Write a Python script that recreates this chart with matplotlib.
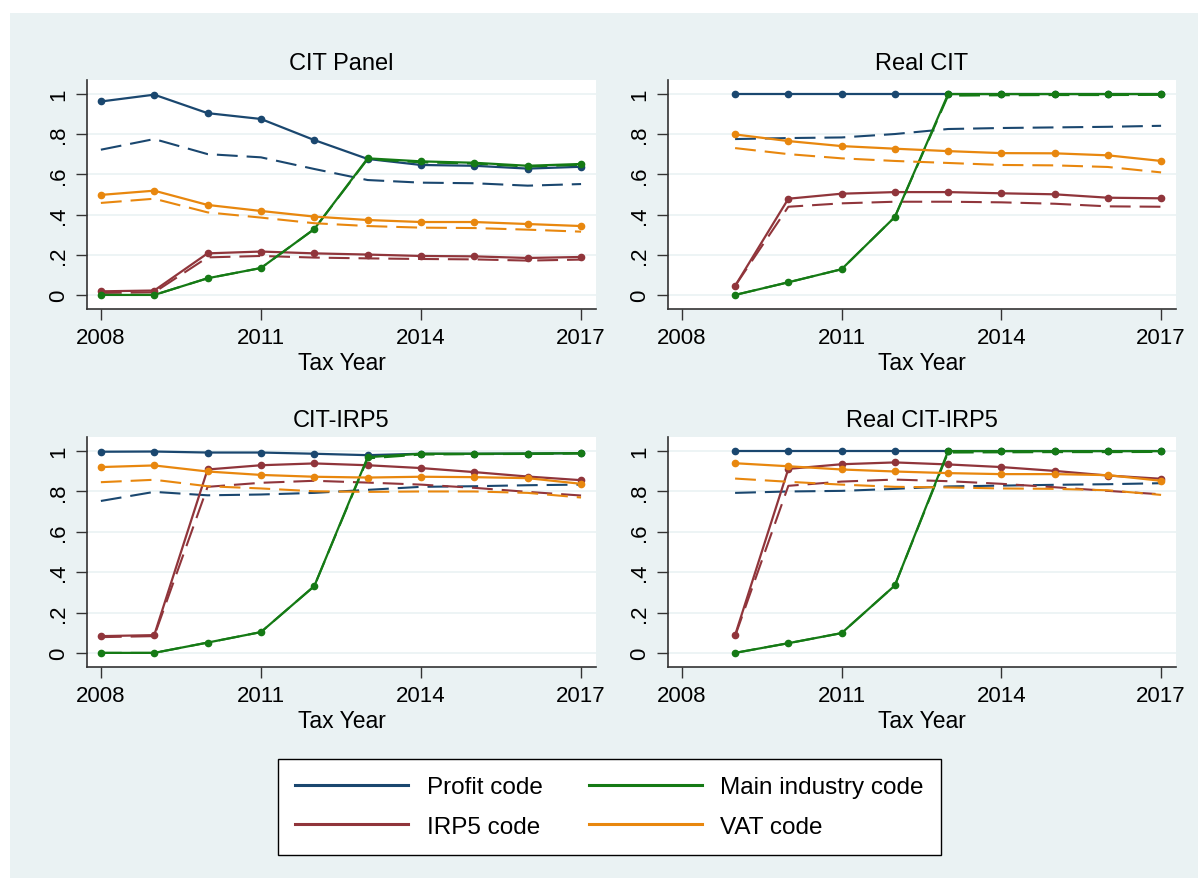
import numpy as np
import matplotlib
matplotlib.use('Agg')
from matplotlib import pyplot as plt
from matplotlib.patches import Rectangle

plt.rcParams['font.family'] = ['Liberation Sans', 'DejaVu Sans']

# colours (Stata s2color-like)
BG = '#EAF2F3'
NAVY = '#1A476F'
MAROON = '#90353B'
GREEN = '#157A15'
ORANGE = '#E8870E'

years = [2008, 2009, 2010, 2011, 2012, 2013, 2014, 2015, 2016, 2017]
years_real = years[1:]

# --- CIT Panel ---
cit_profit = [0.963, 0.997, 0.905, 0.876, 0.771, 0.677, 0.647, 0.643, 0.629, 0.638]
cit_profit_d = [0.723, 0.776, 0.701, 0.685, 0.627, 0.572, 0.559, 0.556, 0.544, 0.552]
cit_irp5 = [0.018, 0.022, 0.207, 0.216, 0.207, 0.201, 0.194, 0.192, 0.184, 0.189]
cit_irp5_d = [0.010, 0.013, 0.187, 0.194, 0.186, 0.182, 0.179, 0.177, 0.171, 0.176]
cit_main = [0.0, 0.0, 0.083, 0.134, 0.328, 0.680, 0.665, 0.658, 0.643, 0.652]
cit_main_d = [0.0, 0.0, 0.083, 0.134, 0.328, 0.676, 0.660, 0.654, 0.639, 0.648]
cit_vat = [0.498, 0.519, 0.448, 0.418, 0.390, 0.373, 0.363, 0.363, 0.353, 0.343]
cit_vat_d = [0.458, 0.479, 0.411, 0.385, 0.357, 0.343, 0.335, 0.333, 0.325, 0.315]

# --- Real CIT (2009-2017) ---
rcit_profit = [1.0, 1.0, 1.0, 1.0, 1.0, 1.0, 1.0, 1.0, 1.0]
rcit_profit_d = [0.776, 0.781, 0.784, 0.801, 0.826, 0.831, 0.834, 0.837, 0.842]
rcit_irp5 = [0.045, 0.479, 0.504, 0.512, 0.512, 0.506, 0.501, 0.484, 0.481]
rcit_irp5_d = [0.045, 0.439, 0.456, 0.464, 0.464, 0.461, 0.454, 0.441, 0.439]
rcit_main = [0.0, 0.063, 0.128, 0.388, 1.0, 1.0, 1.0, 1.0, 1.0]
rcit_main_d = [0.0, 0.063, 0.128, 0.388, 0.992, 0.994, 0.995, 0.995, 0.996]
rcit_vat = [0.799, 0.766, 0.741, 0.728, 0.716, 0.706, 0.705, 0.695, 0.667]
rcit_vat_d = [0.731, 0.701, 0.680, 0.667, 0.657, 0.647, 0.645, 0.637, 0.610]

# --- CIT-IRP5 ---
ci_profit = [0.997, 0.998, 0.993, 0.993, 0.987, 0.980, 0.987, 0.987, 0.988, 0.990]
ci_profit_d = [0.753, 0.798, 0.781, 0.785, 0.793, 0.808, 0.823, 0.826, 0.831, 0.834]
ci_irp5 = [0.083, 0.088, 0.909, 0.930, 0.939, 0.930, 0.916, 0.896, 0.874, 0.856]
ci_irp5_d = [0.078, 0.083, 0.823, 0.843, 0.853, 0.844, 0.834, 0.818, 0.798, 0.780]
ci_main = [0.0, 0.0, 0.051, 0.103, 0.331, 0.970, 0.987, 0.987, 0.988, 0.990]
ci_main_d = [0.0, 0.0, 0.051, 0.103, 0.331, 0.964, 0.983, 0.985, 0.986, 0.988]
ci_vat = [0.921, 0.929, 0.899, 0.882, 0.873, 0.869, 0.873, 0.871, 0.866, 0.838]
ci_vat_d = [0.846, 0.858, 0.826, 0.815, 0.801, 0.798, 0.800, 0.800, 0.793, 0.770]

# --- Real CIT-IRP5 (2009-2017) ---
rci_profit = [1.0, 1.0, 1.0, 1.0, 1.0, 1.0, 1.0, 1.0, 1.0]
rci_profit_d = [0.793, 0.800, 0.803, 0.813, 0.825, 0.829, 0.833, 0.836, 0.841]
rci_irp5 = [0.088, 0.912, 0.935, 0.944, 0.934, 0.921, 0.902, 0.879, 0.863]
rci_irp5_d = [0.083, 0.828, 0.849, 0.859, 0.851, 0.838, 0.821, 0.803, 0.786]
rci_main = [0.0, 0.048, 0.098, 0.334, 1.0, 1.0, 1.0, 1.0, 1.0]
rci_main_d = [0.0, 0.048, 0.098, 0.334, 0.993, 0.994, 0.995, 0.995, 0.996]
rci_vat = [0.940, 0.925, 0.909, 0.899, 0.891, 0.886, 0.886, 0.881, 0.853]
rci_vat_d = [0.864, 0.848, 0.834, 0.823, 0.820, 0.815, 0.813, 0.806, 0.783]

panels = [
    ('CIT Panel', years, [cit_profit, cit_irp5, cit_main, cit_vat],
     [cit_profit_d, cit_irp5_d, cit_main_d, cit_vat_d]),
    ('Real CIT', years_real, [rcit_profit, rcit_irp5, rcit_main, rcit_vat],
     [rcit_profit_d, rcit_irp5_d, rcit_main_d, rcit_vat_d]),
    ('CIT-IRP5', years, [ci_profit, ci_irp5, ci_main, ci_vat],
     [ci_profit_d, ci_irp5_d, ci_main_d, ci_vat_d]),
    ('Real CIT-IRP5', years_real, [rci_profit, rci_irp5, rci_main, rci_vat],
     [rci_profit_d, rci_irp5_d, rci_main_d, rci_vat_d]),
]
labels = ['Profit code', 'IRP5 code', 'Main industry code', 'VAT code']
colors = [NAVY, MAROON, GREEN, ORANGE]

W, H = 1198, 879
fig = plt.figure(figsize=(W / 100, H / 100), dpi=100, facecolor='white')
# Stata graph region (white margin on the top/left edge of the screenshot)
fig.patches.append(Rectangle((10 / W, 0), 1, 1 - 14 / H, transform=fig.transFigure,
                             facecolor=BG, edgecolor='none', zorder=-10))

# axes boxes in pixels: (left, top, right, bottom)
boxes = [(87, 81, 596, 310), (668, 81, 1176, 310),
         (87, 438, 596, 668), (668, 438, 1176, 668)]

handles = None
for (title, xs, solids, dashes), (l, t, r, b) in zip(panels, boxes):
    ax = fig.add_axes([l / W, 1 - b / H, (r - l) / W, (b - t) / H])
    ax.set_facecolor('white')
    hs = []
    for ys, yd, c, lab in zip(solids, dashes, colors, labels):
        ax.plot(xs, yd, color=c, lw=1.5, dashes=(10, 4.3))
        h, = ax.plot(xs, ys, color=c, lw=1.6, marker='o', ms=4.5, label=lab)
        hs.append(h)
    handles = hs
    ax.set_xlim(2007.74, 2017.28)
    ax.set_ylim(-0.07, 1.07)
    ax.set_xticks([2008, 2011, 2014, 2017])
    ax.set_yticks([0, 0.2, 0.4, 0.6, 0.8, 1.0])
    ax.set_yticklabels(['0', '.2', '.4', '.6', '.8', '1'], rotation=90, va='center')
    ax.tick_params(direction='out', length=8, width=1, labelsize=16, colors='#333333',
                   labelcolor='black', pad=5)
    ax.grid(axis='y', color=BG, lw=1.2)
    ax.set_axisbelow(True)
    for s in ['top', 'right']:
        ax.spines[s].set_visible(False)
    for s in ['left', 'bottom']:
        ax.spines[s].set_color('#333333')
        ax.spines[s].set_linewidth(1.2)
    ax.set_title(title, fontsize=17, pad=8)
    ax.set_xlabel('Tax Year', fontsize=16.5, labelpad=2)

leg = fig.legend(handles, labels, ncol=2, loc='center',
                 bbox_to_anchor=(609.5 / W, 1 - 808 / H), fontsize=17.5,
                 handlelength=4.65, handletextpad=0.75, columnspacing=1.9,
                 labelspacing=0.7, borderpad=0.7, frameon=True, fancybox=False,
                 framealpha=1, facecolor='white')
leg.get_frame().set_edgecolor('black')
leg.get_frame().set_linewidth(1.0)
for h in leg.legend_handles:
    h.set_marker('')
    h.set_linewidth(2.2)

fig.savefig('out.png', dpi=100, facecolor='white')
